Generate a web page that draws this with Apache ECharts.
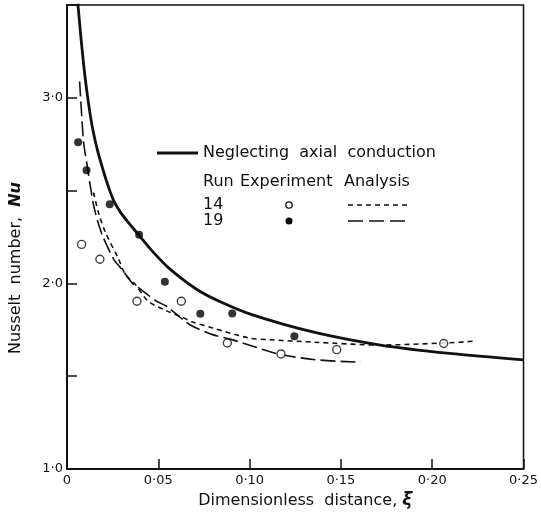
<!DOCTYPE html>
<html>
<head>
<meta charset="utf-8">
<script src="https://cdn.jsdelivr.net/npm/echarts@6/dist/echarts.min.js"></script>
<style>
  html, body { margin: 0; padding: 0; background: #fff; }
  #chart { width: 541px; height: 514px; }
</style>
</head>
<body>
<div id="chart"></div>
<script>
// tick labels
var xTickLabels = ['0', '0·05', '0·10', '0·15', '0·20', '0·25'];
var yTickLabels = ['1·0', '', '2·0', '', '3·0', ''];

// neglecting axial conduction (solid)
var solidX = [0.00595, 0.00758, 0.00974, 0.0119, 0.01407, 0.01677, 0.02002, 0.02273, 0.02543, 0.02922, 0.03409, 0.0395, 0.04708, 0.05628, 0.07072, 0.08333, 0.1012, 0.1357, 0.1716, 0.2094, 0.25];
var solidY = [3.508, 3.330, 3.124, 2.962, 2.832, 2.714, 2.603, 2.519, 2.449, 2.384, 2.322, 2.259, 2.170, 2.078, 1.970, 1.904, 1.832, 1.736, 1.668, 1.623, 1.588];

// run 14 analysis (short dash)
var run14X = [0.0145, 0.0175, 0.0211, 0.0283, 0.0319, 0.0373, 0.0445, 0.054, 0.0635, 0.068, 0.0797, 0.0996, 0.110, 0.1357, 0.1717, 0.2063, 0.2222];
var run14Y = [2.49, 2.373, 2.274, 2.13, 2.05, 1.995, 1.904, 1.855, 1.816, 1.795, 1.760, 1.706, 1.697, 1.683, 1.668, 1.679, 1.688];

// run 19 analysis (long dash)
var run19X = [0.0069, 0.008, 0.0092, 0.0112, 0.0126, 0.0148, 0.0188, 0.0256, 0.0301, 0.0355, 0.0391, 0.0491, 0.0545, 0.0635, 0.068, 0.0797, 0.0904, 0.1104, 0.1174, 0.1357, 0.1609];
var run19Y = [3.088, 2.914, 2.751, 2.627, 2.535, 2.411, 2.274, 2.13, 2.076, 2.004, 1.977, 1.904, 1.877, 1.805, 1.773, 1.724, 1.697, 1.634, 1.616, 1.589, 1.575];

// experiment points
var exp14X = [0.008, 0.018, 0.0383, 0.0626, 0.0878, 0.1172, 0.1477, 0.2063];
var exp14Y = [2.21, 2.13, 1.904, 1.904, 1.679, 1.620, 1.643, 1.676];
var exp19X = [0.0061, 0.0107, 0.0234, 0.0395, 0.0536, 0.073, 0.0905, 0.1245];
var exp19Y = [2.76, 2.61, 2.427, 2.262, 2.009, 1.836, 1.838, 1.715];

function pairs(xs, ys) {
    return xs.map(function (x, i) { return [x, ys[i]]; });
}

var FONT = 'DejaVu Sans';
var INK = '#111';
var LEG_FONT = '16px "DejaVu Sans"';

var chart = echarts.init(document.getElementById('chart'), null, { renderer: 'canvas' });

var option = {
    animation: false,
    backgroundColor: '#fff',
    textStyle: { fontFamily: FONT, color: INK },
    grid: {
        left: 66, right: 13, top: 5, bottom: 45,
        show: true, borderColor: INK, borderWidth: 1.5, backgroundColor: 'transparent'
    },
    xAxis: {
        type: 'value',
        min: 0, max: 0.25, interval: 0.05,
        name: 'Dimensionless  distance, {i|ξ}',
        nameLocation: 'middle',
        nameGap: 22,
        nameTextStyle: {
            fontFamily: FONT, fontSize: 16, color: INK,
            padding: [0, 0, 0, 20],
            rich: { i: { fontFamily: FONT, fontSize: 17, fontStyle: 'italic', fontWeight: 'bold', color: INK } }
        },
        axisLine: { lineStyle: { color: INK, width: 2 } },
        axisTick: { inside: true, length: 10, lineStyle: { color: INK, width: 1.5 } },
        splitLine: { show: false },
        axisLabel: {
            fontFamily: FONT, fontSize: 13, color: INK, margin: 5,
            formatter: function (v) { return xTickLabels[Math.round(v / 0.05)]; }
        }
    },
    yAxis: {
        type: 'value',
        min: 1, max: 3.5, interval: 0.5,
        name: 'Nusselt  number,  {i|Nu}',
        nameLocation: 'middle',
        nameGap: 43,
        nameTextStyle: {
            fontFamily: FONT, fontSize: 16, color: INK,
            padding: [0, 62, 0, 0],
            rich: { i: { fontFamily: FONT, fontSize: 16, fontStyle: 'italic', fontWeight: 'bold', color: INK } }
        },
        axisLine: { show: true, lineStyle: { color: INK, width: 2 } },
        axisTick: { show: true, inside: true, length: 10, lineStyle: { color: INK, width: 1.5 } },
        splitLine: { show: false },
        axisLabel: {
            fontFamily: FONT, fontSize: 13, color: INK, margin: 4,
            formatter: function (v) { return yTickLabels[Math.round((v - 1) / 0.5)]; }
        }
    },
    series: [
        {
            name: 'Neglecting axial conduction',
            type: 'line',
            data: pairs(solidX, solidY),
            smooth: 0.3,
            showSymbol: false,
            lineStyle: { color: INK, width: 2.8 }
        },
        {
            name: '14 analysis',
            type: 'line',
            data: pairs(run14X, run14Y),
            smooth: 0.3,
            showSymbol: false,
            lineStyle: { color: INK, width: 1.6, type: [5, 4] }
        },
        {
            name: '19 analysis',
            type: 'line',
            data: pairs(run19X, run19Y),
            smooth: 0.3,
            showSymbol: false,
            lineStyle: { color: INK, width: 1.6, type: [15, 5] }
        },
        {
            name: '14 experiment',
            type: 'scatter',
            data: pairs(exp14X, exp14Y),
            symbol: 'circle',
            symbolSize: 8,
            itemStyle: { color: '#fff', borderColor: INK, borderWidth: 1.4 },
            z: 5
        },
        {
            name: '19 experiment',
            type: 'scatter',
            data: pairs(exp19X, exp19Y),
            symbol: 'circle',
            symbolSize: 8,
            itemStyle: { color: '#000' },
            z: 5
        }
    ],
    graphic: [
        // legend block
        { type: 'line', shape: { x1: 157, y1: 153, x2: 198, y2: 153 }, style: { stroke: INK, lineWidth: 3 } },
        { type: 'text', x: 203, y: 153, style: { text: 'Neglecting  axial  conduction', font: LEG_FONT, fill: INK, verticalAlign: 'middle' } },
        { type: 'text', x: 203, y: 182, style: { text: 'Run', font: LEG_FONT, fill: INK, verticalAlign: 'middle' } },
        { type: 'text', x: 240, y: 182, style: { text: 'Experiment', font: LEG_FONT, fill: INK, verticalAlign: 'middle' } },
        { type: 'text', x: 344, y: 182, style: { text: 'Analysis', font: LEG_FONT, fill: INK, verticalAlign: 'middle' } },
        { type: 'text', x: 203, y: 205, style: { text: '14', font: LEG_FONT, fill: INK, verticalAlign: 'middle' } },
        { type: 'circle', shape: { cx: 289, cy: 205, r: 3.2 }, style: { fill: '#fff', stroke: INK, lineWidth: 1.3 } },
        { type: 'line', shape: { x1: 348, y1: 205, x2: 410, y2: 205 }, style: { stroke: INK, lineWidth: 1.6, lineDash: [5, 4] } },
        { type: 'text', x: 203, y: 221, style: { text: '19', font: LEG_FONT, fill: INK, verticalAlign: 'middle' } },
        { type: 'circle', shape: { cx: 289, cy: 221, r: 3.5 }, style: { fill: '#000' } },
        { type: 'line', shape: { x1: 348, y1: 221, x2: 410, y2: 221 }, style: { stroke: INK, lineWidth: 1.6, lineDash: [15, 6] } }
    ]
};

chart.setOption(option);
</script>
</body>
</html>
